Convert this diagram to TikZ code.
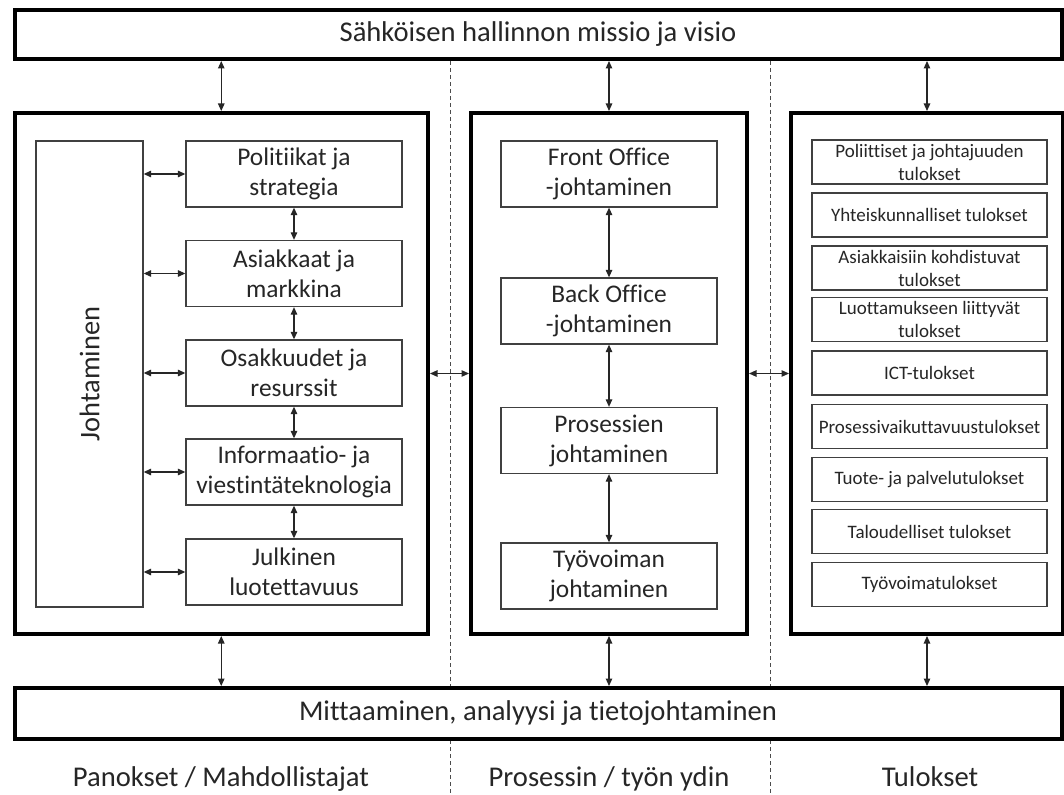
\documentclass[tikz,border=0pt]{standalone}
\usepackage{fontspec}
\setmainfont{Carlito}[Ligatures={NoCommon}]
\usetikzlibrary{arrows.meta}
\begin{document}
\begin{tikzpicture}[x=1pt,y=-1pt,
  thickbox/.style={draw=black, line width=4pt, fill=white, inner sep=0pt},
  subbox/.style={draw=black!75, line width=1.3pt, fill=white, inner sep=0pt, align=center, text=black!85, minimum width=216pt, minimum height=66pt, font=\fontsize{25.4}{30}\selectfont},
  resbox/.style={draw=black!75, line width=1.3pt, fill=white, inner sep=0pt, align=center, text=black!85, minimum width=235pt, minimum height=44pt, font=\fontsize{19}{23}\selectfont},
  bigtext/.style={font=\fontsize{28.6}{34}\selectfont, text=black!85},
  link/.style={line width=1.2pt, draw=black!85, {Triangle[length=7.5pt,width=6.5pt]}-{Triangle[length=7.5pt,width=6.5pt]}},
  divider/.style={draw=black!70, line width=1pt, dash pattern=on 4pt off 3pt}]
\useasboundingbox (0,0) rectangle (1064,794);
\fill[white] (0,0) rectangle (1064,794);

% top box
\node[thickbox, bigtext, minimum width=1047pt, minimum height=49pt] (top) at (538,34.5) {Sähköisen hallinnon missio ja visio};

% dividers
\coordinate (d1) at (450,794);
\coordinate (d2) at (770,794);
\draw[divider] (top.south -| d1) -- (d1);
\draw[divider] (top.south -| d2) -- (d2);

% main columns
\node[thickbox, minimum width=413.5pt, minimum height=521pt] (L) at (221.25,373.5) {};
\node[thickbox, minimum width=276pt, minimum height=521pt] (M) at (609,373.5) {};
\node[thickbox, minimum width=272pt, minimum height=521pt] (R) at (927,373.5) {};

% bottom box
\node[thickbox, bigtext, minimum width=1047pt, minimum height=51pt] (bot) at (538,713.5) {Mittaaminen, analyysi ja tietojohtaminen};

% left column content
\node[subbox, minimum width=107pt, minimum height=466pt] (J) at (89.5,374) {};
\node[rotate=90, text=black!85, font=\fontsize{28.4}{34}\selectfont, inner sep=0pt] (Jt) at (J.center) {Johtaminen};

\node[subbox] (P1) at (294,174) {Politiikat ja\\strategia};
\node[subbox] (P2) at (294,273.5) {Asiakkaat ja\\markkina};
\node[subbox] (P3) at (294,373) {Osakkuudet ja\\resurssit};
\node[subbox] (P4) at (294,472) {Informaatio- ja\\viestintäteknologia};
\node[subbox] (P5) at (294,572) {Julkinen\\luotettavuus};

\foreach \n in {P1,P2,P3,P4,P5}{
  \draw[link] (J.east |- \n.west) -- (\n.west);
}
\draw[link] (P1.south) -- (P2.north);
\draw[link] (P2.south) -- (P3.north);
\draw[link] (P3.south) -- (P4.north);
\draw[link] (P4.south) -- (P5.north);

% middle column content
\node[subbox] (M1) at (609,174) {Front Office\\-johtaminen};
\node[subbox] (M2) at (609,311) {Back Office\\-johtaminen};
\node[subbox] (M3) at (609,440.5) {Prosessien\\johtaminen};
\node[subbox] (M4) at (609,576) {Työvoiman\\johtaminen};
\draw[link] (M1.south) -- (M2.north);
\draw[link] (M2.south) -- (M3.north);
\draw[link] (M3.south) -- (M4.north);

% right column content
\node[resbox] (R1) at (929.5,162) {Poliittiset ja johtajuuden\\tulokset};
\node[resbox] (R2) at (929.5,215) {Yhteiskunnalliset tulokset};
\node[resbox] (R3) at (929.5,268) {Asiakkaisiin kohdistuvat\\tulokset};
\node[resbox] (R4) at (929.5,319.5) {Luottamukseen liittyvät\\tulokset};
\node[resbox] (R5) at (929.5,373) {ICT-tulokset};
\node[resbox] (R6) at (929.5,426.5) {Prosessivaikuttavuustulokset};
\node[resbox] (R7) at (929.5,479.5) {Tuote- ja palvelutulokset};
\node[resbox] (R8) at (929.5,531.5) {Taloudelliset tulokset};
\node[resbox] (R9) at (929.5,584.5) {Työvoimatulokset};

% column links
\draw[link] (L.east) -- (M.west);
\draw[link] (M.east) -- (R.west);
\foreach \n in {L,M,R}{
  \draw[link] (top.south -| \n.north) -- (\n.north);
  \draw[link] (\n.south) -- (bot.north -| \n.south);
}

% column labels
\node[bigtext, anchor=base] (lab1) at (221,786) {Panokset / Mahdollistajat};
\node[bigtext, anchor=base] (lab2) at (609,786) {Prosessin / työn ydin};
\node[bigtext, anchor=base] (lab3) at (930,786) {Tulokset};
\end{tikzpicture}
\end{document}
